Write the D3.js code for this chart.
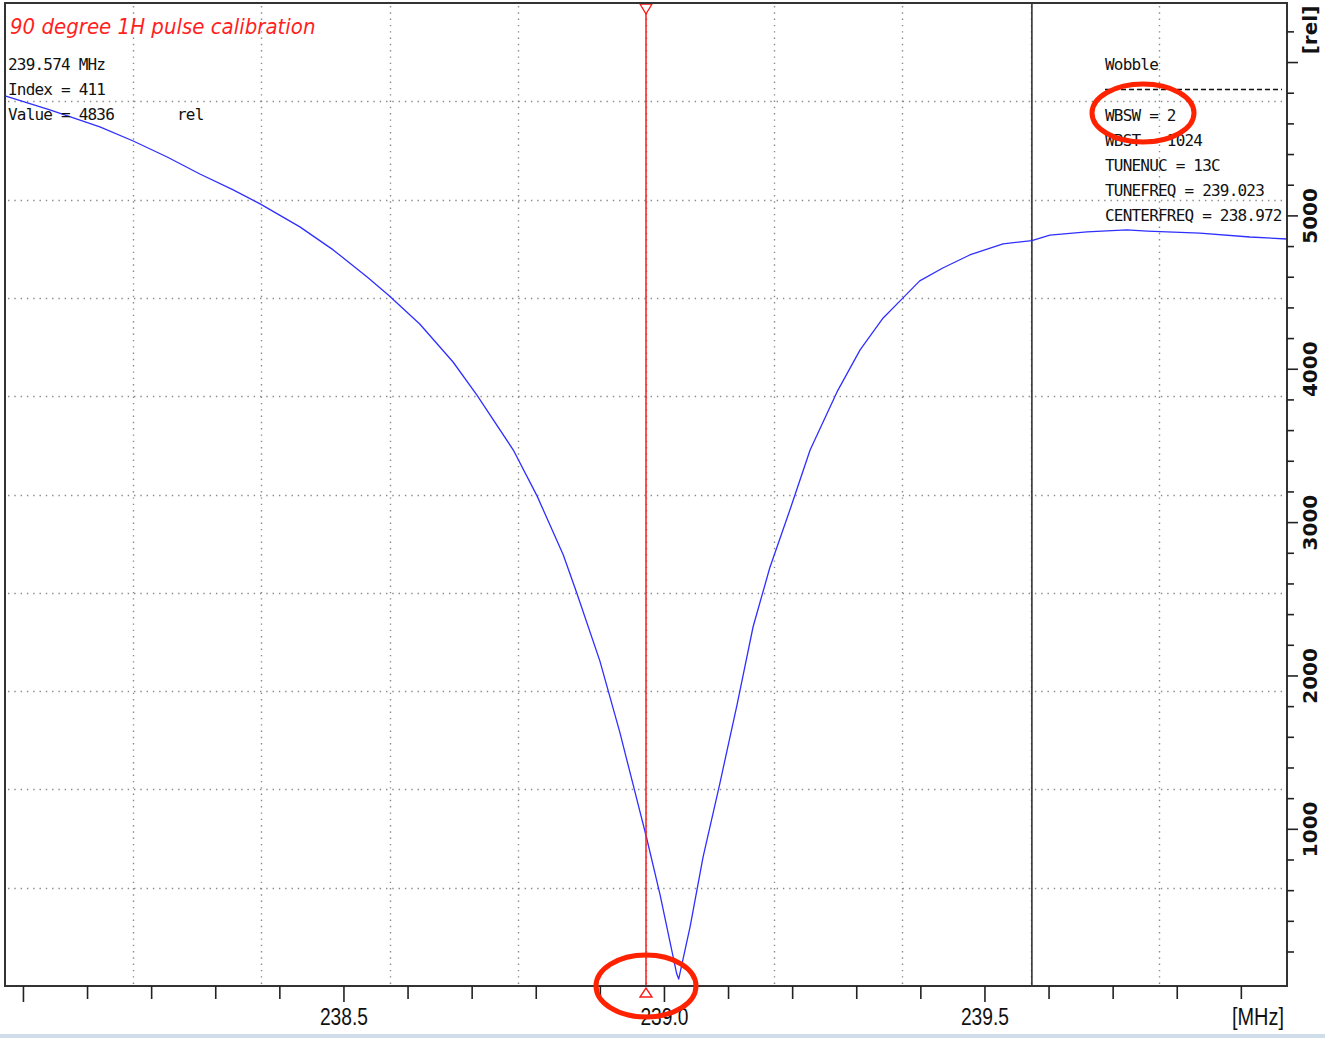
<!DOCTYPE html>
<html lang="en">
  <head>
    <meta charset="utf-8">
    <title>90 degree 1H pulse calibration</title>
    <style>

body {
  margin: 0;
  background: #fff;
}

svg {
  display: block;
}

.grid line {
  stroke: #8a8a8a;
  stroke-width: 1.4;
  stroke-dasharray: 1.4 4.9;
}

.axis path {
  display: none;
}

.axis line {
  stroke: #222;
  stroke-width: 1.6;
}

.x.axis text,
.unit-x {
  font-family: "Liberation Sans", "DejaVu Sans Condensed", sans-serif;
  font-size: 23px;
  fill: #111;
}

.y.axis text,
.unit-y {
  font-family: "DejaVu Sans", sans-serif;
  font-weight: bold;
  font-size: 20px;
  fill: #111;
}

.info {
  font-family: "DejaVu Sans Mono", monospace;
  font-size: 16px;
  letter-spacing: -0.8px;
  fill: #111;
}

.title {
  font-family: "DejaVu Sans Condensed", "DejaVu Sans", sans-serif;
  font-stretch: condensed;
  font-style: italic;
  font-size: 22px;
  fill: #ff1f1f;
}

.frame {
  fill: none;
  stroke: #333;
  stroke-width: 2;
}

    </style>
  </head>
  <body>
    <svg></svg>
    <script src="https://d3js.org/d3.v7.min.js"></script>
    <script>

    // wobble curve
    const freqMHz = [237.972, 238.042, 238.120, 238.172, 238.225, 238.276, 238.328,
      238.370, 238.432, 238.484, 238.537, 238.570, 238.619, 238.671, 238.708, 238.765,
      238.802, 238.843, 238.864, 238.900, 238.931, 238.952, 238.973, 238.994, 239.020,
      239.023, 239.041, 239.061, 239.087, 239.114, 239.139, 239.165, 239.197, 239.228,
      239.270, 239.306, 239.342, 239.373, 239.399, 239.435, 239.477, 239.529, 239.574,
      239.602, 239.660, 239.722, 239.754, 239.836, 239.914, 239.972];
    const relValue = [5779, 5688, 5577, 5485, 5381, 5270, 5166,
      5075, 4925, 4775, 4599, 4481, 4292, 4044, 3829, 3470,
      3171, 2786, 2538, 2095, 1632, 1286, 940, 569, 53,
      20, 366, 816, 1292, 1808, 2316, 2701, 3086, 3470,
      3849, 4123, 4331, 4462, 4573, 4657, 4742, 4814, 4836,
      4872, 4893, 4905, 4898, 4885, 4859, 4846];

    const xTickLabels = [238.5, 239.0, 239.5];
    const yTickLabels = [1000, 2000, 3000, 4000, 5000];
    const cursorLines = ["239.574 MHz", "Index = 411", "Value = 4836"];
    const paramLines = ["WBSW = 2", "WBST = 1024", "TUNENUC = 13C", "TUNEFREQ = 239.023", "CENTERFREQ = 238.972"];
    const centerFreq = 238.972,
        cursorFreq = 239.574;

    let width = 1325,
        height = 1038,
        pLeft = 5, pTop = 3, pRight = 1287, pBottom = 986;

    let x = d3.scaleLinear()
        .domain([237.972, 239.972])
        .range([pLeft, pRight]);

    let y = d3.scaleLinear()
        .domain([-25, 6385])
        .range([pBottom, pTop]);

    let svg = d3.select("svg")
        .attr("width", width)
        .attr("height", height);

    svg.append("rect")
        .attr("width", width)
        .attr("height", height)
        .attr("fill", "#fff");

    // window edge at the bottom
    svg.append("rect")
        .attr("x", 0)
        .attr("y", height - 4)
        .attr("width", width)
        .attr("height", 4)
        .attr("fill", "#cfdcea");

    // dotted grid, 10 divisions each way
    let xd = x.domain(), yd = y.domain();
    let grid = svg.append("g").attr("class", "grid");
    grid.selectAll(".gv")
        .data(d3.range(1, 10).map(function(i) { return xd[0] + i * (xd[1] - xd[0]) / 10; }))
      .enter().append("line")
        .attr("x1", function(d) { return Math.round(x(d)) + 0.5; })
        .attr("x2", function(d) { return Math.round(x(d)) + 0.5; })
        .attr("y1", pTop + 3)
        .attr("y2", pBottom);
    grid.selectAll(".gh")
        .data(d3.range(1, 10).map(function(i) { return yd[0] + i * (yd[1] - yd[0]) / 10; }))
      .enter().append("line")
        .attr("y1", function(d) { return Math.round(y(d)) + 0.5; })
        .attr("y2", function(d) { return Math.round(y(d)) + 0.5; })
        .attr("x1", pLeft + 3)
        .attr("x2", pRight);

    // cursor line
    svg.append("line")
        .attr("x1", x(cursorFreq)).attr("x2", x(cursorFreq))
        .attr("y1", pTop).attr("y2", pBottom)
        .attr("stroke", "#333")
        .attr("stroke-width", 1.6);

    // curve
    let line = d3.line()
        .x(function(d, i) { return x(freqMHz[i]); })
        .y(function(d) { return y(d); });

    svg.append("path")
        .datum(relValue)
        .attr("d", line)
        .attr("fill", "none")
        .attr("stroke", "#2f2fff")
        .attr("stroke-width", 1.3)
        .attr("stroke-linejoin", "round");

    // center frequency marker
    let cx = x(centerFreq);
    svg.append("line")
        .attr("x1", cx).attr("x2", cx)
        .attr("y1", pTop).attr("y2", pBottom)
        .attr("stroke", "#ff1a1a")
        .attr("stroke-width", 1.5);
    svg.append("path")
        .attr("d", "M" + (cx - 6) + "," + (pTop + 1) + "L" + (cx + 6) + "," + (pTop + 1) + "L" + cx + "," + (pTop + 11) + "Z")
        .attr("fill", "#fff")
        .attr("stroke", "#ff1a1a")
        .attr("stroke-width", 1.4);
    svg.append("path")
        .attr("d", "M" + (cx - 6) + "," + (pBottom + 11) + "L" + (cx + 6) + "," + (pBottom + 11) + "L" + cx + "," + (pBottom + 2) + "Z")
        .attr("fill", "#fff")
        .attr("stroke", "#ff1a1a")
        .attr("stroke-width", 1.4);

    svg.append("rect")
        .attr("class", "frame")
        .attr("x", pLeft)
        .attr("y", pTop)
        .attr("width", pRight - pLeft)
        .attr("height", pBottom - pTop);

    // x axis
    let xAxis = d3.axisBottom(x)
        .tickValues(d3.range(0, 20).map(function(i) { return 238.0 + i * 0.1; }))
        .tickSize(14)
        .tickFormat(function(d) {
          let hit = xTickLabels.find(function(l) { return Math.abs(l - d) < 1e-6; });
          return hit === undefined ? "" : d3.format(".1f")(hit);
        });

    let gx = svg.append("g")
        .attr("class", "x axis")
        .attr("transform", "translate(0," + pBottom + ")")
        .call(xAxis);
    gx.selectAll(".tick text")
        .attr("y", 23)
        .filter(function() { return this.textContent !== ""; })
        .attr("textLength", 48)
        .attr("lengthAdjust", "spacingAndGlyphs");
    gx.selectAll(".tick line").attr("y2", function(d) {
      return Math.abs(d * 2 - Math.round(d * 2)) < 1e-6 ? 16 : 13;
    });

    svg.append("text")
        .attr("class", "unit-x")
        .attr("x", 1232)
        .attr("y", 1025)
        .attr("textLength", 52)
        .attr("lengthAdjust", "spacingAndGlyphs")
        .text("[MHz]");

    // y axis on the right
    let yAxis = d3.axisRight(y)
        .tickValues(d3.range(200, 6400, 200))
        .tickSize(7)
        .tickFormat(function(d) { return yTickLabels.indexOf(d) >= 0 ? d : ""; });

    let gy = svg.append("g")
        .attr("class", "y axis")
        .attr("transform", "translate(" + pRight + ",0)")
        .call(yAxis);
    gy.selectAll(".tick line").attr("x2", function(d) { return d % 1000 === 0 ? 11 : 7; });
    gy.selectAll(".tick text")
        .attr("x", 0)
        .attr("dy", null)
        .attr("text-anchor", "middle")
        .attr("transform", "translate(30,0) rotate(-90)");

    svg.append("text")
        .attr("class", "unit-y")
        .attr("text-anchor", "middle")
        .attr("transform", "translate(" + (pRight + 30) + ",30) rotate(-90)")
        .text("[rel]");

    // texts
    svg.append("text")
        .attr("class", "title")
        .attr("x", 10)
        .attr("y", 34)
        .text("90 degree 1H pulse calibration");

    svg.selectAll(".cursor-info")
        .data(cursorLines)
      .enter().append("text")
        .attr("class", "info cursor-info")
        .attr("x", 8)
        .attr("y", function(d, i) { return 70 + i * 25; })
        .text(function(d) { return d; });

    svg.append("text")
        .attr("class", "info")
        .attr("x", 177)
        .attr("y", 120)
        .text("rel");

    svg.append("text")
        .attr("class", "info")
        .attr("x", 1105)
        .attr("y", 70)
        .text("Wobble");

    svg.append("line")
        .attr("x1", 1105).attr("x2", 1282)
        .attr("y1", 89.5).attr("y2", 89.5)
        .attr("stroke", "#111")
        .attr("stroke-width", 1.3)
        .attr("stroke-dasharray", "5 3");

    svg.selectAll(".param-info")
        .data(paramLines)
      .enter().append("text")
        .attr("class", "info param-info")
        .attr("x", 1105)
        .attr("y", function(d, i) { return 121 + i * 25; })
        .text(function(d) { return d; });

    // red annotation ellipses
    svg.append("ellipse")
        .attr("cx", 1143).attr("cy", 113)
        .attr("rx", 51).attr("ry", 29)
        .attr("fill", "none")
        .attr("stroke", "#ff2200")
        .attr("stroke-width", 5);

    svg.append("ellipse")
        .attr("cx", cx).attr("cy", pBottom)
        .attr("rx", 50).attr("ry", 31)
        .attr("fill", "none")
        .attr("stroke", "#ff2200")
        .attr("stroke-width", 5);

    </script>
  </body>
</html>
